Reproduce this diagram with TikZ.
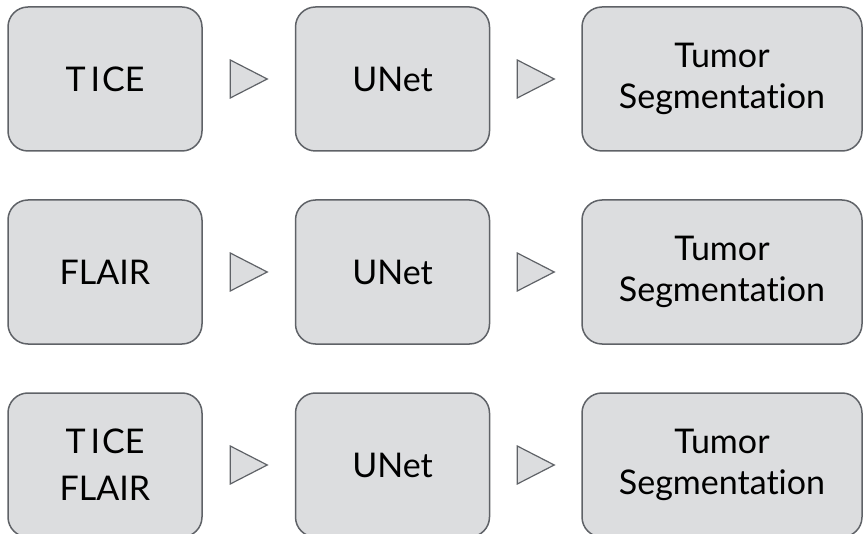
\documentclass[tikz,border=0pt]{standalone}
\usepackage{fontspec}
\setmainfont{Lato}[Ligatures=NoCommon]
\usetikzlibrary{calc}
\definecolor{boxfill}{HTML}{DCDDDF}
\definecolor{boxline}{HTML}{5F6267}
\tikzset{
  stage/.style={draw=boxline, fill=boxfill, line width=1.5pt, rounded corners=20pt,
    minimum height=144pt, inner sep=0pt, align=center,
    font=\fontsize{34}{41}\selectfont},
  narrow/.style={stage, minimum width=194pt},
  wide/.style={stage, minimum width=280pt},
  flowtri/.style={draw=boxline, fill=boxfill, line width=1.2pt, line join=miter}
}
\newcommand{\tice}{T\kern5pt I\kern2pt CE}
\newcommand{\flowmark}[2]{%
  \coordinate (m) at ($(#1.east)!0.5!(#2.west)$);
  \draw[flowtri] ($(m)+(-18.5,-19)$) -- ($(m)+(18.5,0)$) -- ($(m)+(-18.5,19)$) -- cycle;}
\begin{document}
\begin{tikzpicture}[x=1pt, y=-1pt]
  \useasboundingbox (0,0) rectangle (864,534);
  \clip (0,0) rectangle (864,534);
  % row 1
  \node[narrow] (in1)  at (105,79)   {\tice};
  \node[narrow] (net1) at (392.5,79) {UNet};
  \node[wide]   (out1) at (722,79)   {Tumor\\Segmentation};
  % row 2
  \node[narrow] (in2)  at (105,272)   {FLAIR};
  \node[narrow] (net2) at (392.5,272) {UNet};
  \node[wide]   (out2) at (722,272)   {Tumor\\Segmentation};
  % row 3
  \node[narrow, font=\fontsize{34}{47}\selectfont] (in3) at (105,465) {\tice\\FLAIR};
  \node[narrow] (net3) at (392.5,465) {UNet};
  \node[wide]   (out3) at (722,465)   {Tumor\\Segmentation};
  % flow markers between stages
  \flowmark{in1}{net1}
  \flowmark{net1}{out1}
  \flowmark{in2}{net2}
  \flowmark{net2}{out2}
  \flowmark{in3}{net3}
  \flowmark{net3}{out3}
\end{tikzpicture}
\end{document}
